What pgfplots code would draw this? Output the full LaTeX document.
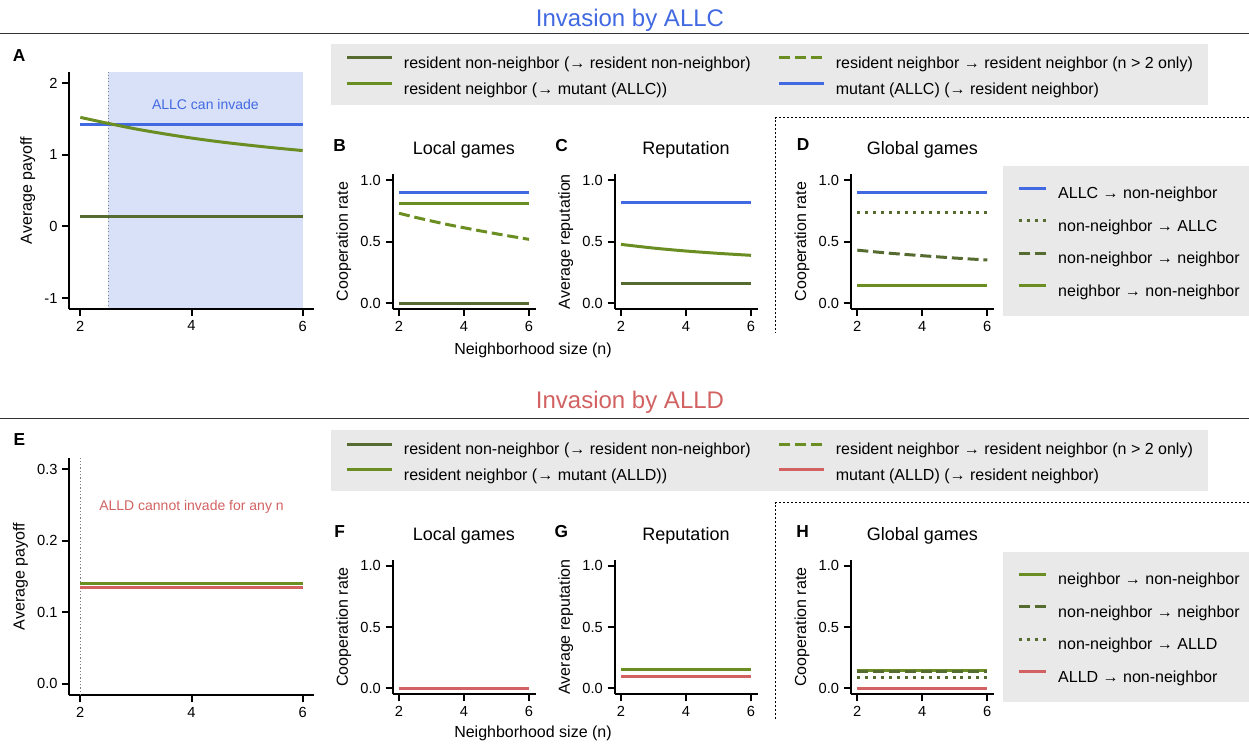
\documentclass[border=0pt]{standalone}
\usepackage{pgfplots}
\pgfplotsset{compat=1.18}
\usepackage{fontspec}
\setmainfont{Liberation Sans}
\definecolor{dkgreen}{RGB}{85,107,47}
\definecolor{ltgreen}{RGB}{107,142,35}
\definecolor{myblue}{RGB}{65,105,225}
\definecolor{myred}{RGB}{210,98,98}
\definecolor{shade}{RGB}{217,225,249}
\definecolor{leggray}{RGB}{233,233,233}
\newlength\pxu \setlength\pxu{0.75pt}
\pgfplotsset{
  panel/.style={
    scale only axis,
    axis lines=left,
    axis line style={-, line width=1.5pt, black},
    tick style={line width=1.5pt, black},
    tick align=outside,
    major tick length=5.25pt,
    xmin=1.8, xmax=6.2,
    xtick={2,4,6},
    /pgf/number format/assume math mode=true,
    ticklabel style={font=\fontsize{11}{13}\selectfont},
    label style={font=\fontsize{12}{14}\selectfont},
    every axis title/.style={at={(0.5,1)}, anchor=base, yshift=14.3pt, font=\fontsize{13.5}{16}\selectfont},
    every axis plot/.append style={line width=2.25pt},
    clip=false,
  },
  unitrange/.style={ymin=-0.05, ymax=1.05, ytick={0,0.5,1},
    yticklabel style={/pgf/number format/.cd, fixed, fixed zerofill, precision=1}},
  dashedline/.style={dash pattern=on 8.25pt off 3.6pt},
  dottedline/.style={dash pattern=on 2.25pt off 3.7pt},
  toplegend/.style={
    legend columns=2,
    legend cell align=left,
    legend style={draw=none, fill=leggray, font=\fontsize{12}{14}\selectfont, overlay,
      inner xsep=11pt, inner ysep=5.4pt, row sep=3.55pt,
      nodes={inner sep=0pt, text height=12.75pt, text depth=3pt},
      /tikz/every odd column/.append style={column sep=7.5pt},
      /tikz/column 2/.append style={column sep=20.25pt}},
    legend image code/.code={\draw[##1, line width=2.25pt] (0pt,3pt) -- (33.75pt,3pt);},
  },
  sidelegend/.style={
    legend columns=1,
    legend cell align=left,
    legend style={draw=none, fill=leggray, font=\fontsize{12}{14}\selectfont, overlay,
      inner xsep=10.5pt, inner ysep=12pt, row sep=9pt,
      nodes={inner sep=0pt, text height=12.4pt, text depth=3pt},
      /tikz/every odd column/.append style={column sep=8.25pt}},
    legend image code/.code={\draw[##1, line width=2.25pt] (0pt,3pt) -- (20.25pt,3pt);},
  },
}
\begin{document}
\begin{tikzpicture}
\begin{scope}[x=\pxu, y=-\pxu]
  \useasboundingbox (0,0) rectangle (1249,746);
  \coordinate (pA) at (69.2,309.1);
  \coordinate (pB) at (392.5,309.2);
  \coordinate (pC) at (614.5,309.2);
  \coordinate (pD) at (850.8,309.2);
  \coordinate (pE) at (69.2,695.3);
  \coordinate (pF) at (392.5,694.4);
  \coordinate (pG) at (614.5,694.4);
  \coordinate (pH) at (850.8,694.4);
  % section titles and separators
  \node[anchor=base, text=myblue, font=\fontsize{18}{21}\selectfont] at (630,26.7) {Invasion by ALLC};
  \node[anchor=base, text=myred, font=\fontsize{18}{21}\selectfont] at (630,408.3) {Invasion by ALLD};
  \draw[line width=1.1pt, black!80] (0,33.3) -- (1249,33.3);
  \draw[line width=1.1pt, black!80] (0,418.3) -- (1249,418.3);
  % dotted boxes around global games
  \draw[line width=0.9pt, dash pattern=on 1.2pt off 1.8pt] (1249,117.5) -- (775.7,117.5) -- (775.7,333);
  \draw[line width=0.9pt, dash pattern=on 1.2pt off 1.8pt] (1249,502.7) -- (775.7,502.7) -- (775.7,720);
  % panel letters
  \foreach \l/\xx/\yy in {A/12.7/61.7, B/333/151, C/555/151, D/796.7/150.7, E/13.3/445.7, F/334/537.3, G/554.3/537.3, H/796/537.7}
    \node[anchor=base west, inner sep=0pt, font=\fontsize{13}{15}\selectfont\bfseries] at (\xx,\yy) {\l};
  \node[anchor=base, font=\fontsize{12}{14}\selectfont] at (533,354) {Neighborhood size (n)};
  \node[anchor=base, font=\fontsize{12}{14}\selectfont] at (533,737.7) {Neighborhood size (n)};
\end{scope}

% ---------------- A ----------------
\begin{axis}[panel, at={(pA)}, anchor=south west, width=244.6\pxu, height=236.9\pxu,
  ymin=-1.155, ymax=2.155, ytick={-1,0,1,2}, ylabel={Average payoff}, axis on top]
\addplot[fill=shade, draw=none, line width=0pt] coordinates {(2.5,-1.155) (6,-1.155) (6,2.155) (2.5,2.155)} -- cycle;
\addplot[gray, line width=0.75pt, dash pattern=on 0.9pt off 1.6pt] coordinates {(2.5,-1.155) (2.5,2.155)};
\addplot[dkgreen] coordinates {(2,0.14) (6,0.14)};
\addplot[myblue] coordinates {(2,1.427) (6,1.427)};
\addplot[ltgreen, smooth] coordinates {(2,1.524) (2.5,1.44) (3,1.362) (3.5,1.295) (4,1.235) (4.5,1.183) (5,1.138) (5.5,1.097) (6,1.06)};
\node[text=myblue, font=\fontsize{10.5}{12}\selectfont] at (axis cs:4.25,1.7) {ALLC can invade};
\end{axis}

% ---------------- B ----------------
\begin{axis}[panel, unitrange, at={(pB)}, anchor=south west, width=143\pxu, height=135.3\pxu,
  ylabel={Cooperation rate}, title={Local games}, toplegend,
  legend style={at={(-0.430,1.960)}, anchor=north west}]
\addplot[dkgreen] coordinates {(2,0) (6,0)};
\addlegendentry{resident non-neighbor (→ resident non-neighbor)}
\addplot[ltgreen, dashedline] coordinates {(2,0.73) (2.5,0.697) (3,0.667) (3.5,0.638) (4,0.612) (4.5,0.587) (5,0.563) (5.5,0.54) (6,0.518)};
\addlegendentry{resident neighbor → resident neighbor (n > 2 only)}
\addplot[ltgreen] coordinates {(2,0.81) (6,0.81)};
\addlegendentry{resident neighbor (→ mutant (ALLC))}
\addplot[myblue] coordinates {(2,0.9) (6,0.9)};
\addlegendentry{mutant (ALLC) (→ resident neighbor)}
\end{axis}

% ---------------- C ----------------
\begin{axis}[panel, unitrange, at={(pC)}, anchor=south west, width=143\pxu, height=135.3\pxu,
  ylabel={Average reputation}, title={Reputation}]
\addplot[dkgreen] coordinates {(2,0.157) (6,0.157)};
\addplot[ltgreen, smooth] coordinates {(2,0.477) (3,0.447) (4,0.423) (5,0.404) (6,0.388)};
\addplot[myblue] coordinates {(2,0.815) (6,0.815)};
\end{axis}

% ---------------- D ----------------
\begin{axis}[panel, unitrange, at={(pD)}, anchor=south west, width=143\pxu, height=135.3\pxu,
  ylabel={Cooperation rate}, title={Global games}, sidelegend,
  legend style={at={(1.064,1.0606)}, anchor=north west}]
\addplot[myblue] coordinates {(2,0.9) (6,0.9)};
\addlegendentry{ALLC → non-neighbor}
\addplot[dkgreen, dottedline] coordinates {(2,0.738) (6,0.738)};
\addlegendentry{non-neighbor → ALLC}
\addplot[dkgreen, dashedline, smooth] coordinates {(2,0.43) (3,0.405) (4,0.385) (5,0.366) (6,0.35)};
\addlegendentry{non-neighbor → neighbor}
\addplot[ltgreen] coordinates {(2,0.14) (6,0.14)};
\addlegendentry{neighbor → non-neighbor}
\end{axis}

% ---------------- E ----------------
\begin{axis}[panel, at={(pE)}, anchor=south west, width=244.6\pxu, height=237.5\pxu,
  ymin=-0.016, ymax=0.316, ytick={0,0.1,0.2,0.3},
  yticklabel style={/pgf/number format/.cd, fixed, fixed zerofill, precision=1},
  ylabel={Average payoff}]
\addplot[gray, line width=0.75pt, dash pattern=on 0.9pt off 1.6pt] coordinates {(2,-0.016) (2,0.316)};
\addplot[dkgreen] coordinates {(2,0.14) (6,0.14)};
\addplot[ltgreen] coordinates {(2,0.14) (6,0.14)};
\addplot[myred] coordinates {(2,0.135) (6,0.135)};
\node[text=myred, font=\fontsize{10.5}{12}\selectfont] at (axis cs:4.0,0.248) {ALLD cannot invade for any n};
\end{axis}

% ---------------- F ----------------
\begin{axis}[panel, unitrange, at={(pF)}, anchor=south west, width=143\pxu, height=134.8\pxu,
  ylabel={Cooperation rate}, title={Local games}, toplegend,
  legend style={at={(-0.430,1.961)}, anchor=north west}]
\addplot[dkgreen] coordinates {(2,0) (6,0)};
\addlegendentry{resident non-neighbor (→ resident non-neighbor)}
\addplot[ltgreen, dashedline] coordinates {(2,0) (6,0)};
\addlegendentry{resident neighbor → resident neighbor (n > 2 only)}
\addplot[ltgreen] coordinates {(2,0) (6,0)};
\addlegendentry{resident neighbor (→ mutant (ALLD))}
\addplot[myred] coordinates {(2,0) (6,0)};
\addlegendentry{mutant (ALLD) (→ resident neighbor)}
\end{axis}

% ---------------- G ----------------
\begin{axis}[panel, unitrange, at={(pG)}, anchor=south west, width=143\pxu, height=134.8\pxu,
  ylabel={Average reputation}, title={Reputation}]
\addplot[dkgreen] coordinates {(2,0.157) (6,0.157)};
\addplot[ltgreen] coordinates {(2,0.157) (6,0.157)};
\addplot[myred] coordinates {(2,0.1) (6,0.1)};
\end{axis}

% ---------------- H ----------------
\begin{axis}[panel, unitrange, at={(pH)}, anchor=south west, width=143\pxu, height=134.8\pxu,
  ylabel={Cooperation rate}, title={Global games}, sidelegend,
  legend style={at={(1.064,1.0586)}, anchor=north west}]
\addplot[ltgreen] coordinates {(2,0.144) (6,0.144)};
\addlegendentry{neighbor → non-neighbor}
\addplot[dkgreen, dashedline] coordinates {(2,0.14) (6,0.14)};
\addlegendentry{non-neighbor → neighbor}
\addplot[dkgreen, dottedline] coordinates {(2,0.09) (6,0.09)};
\addlegendentry{non-neighbor → ALLD}
\addplot[myred] coordinates {(2,0) (6,0)};
\addlegendentry{ALLD → non-neighbor}
\end{axis}
\end{tikzpicture}
\end{document}
